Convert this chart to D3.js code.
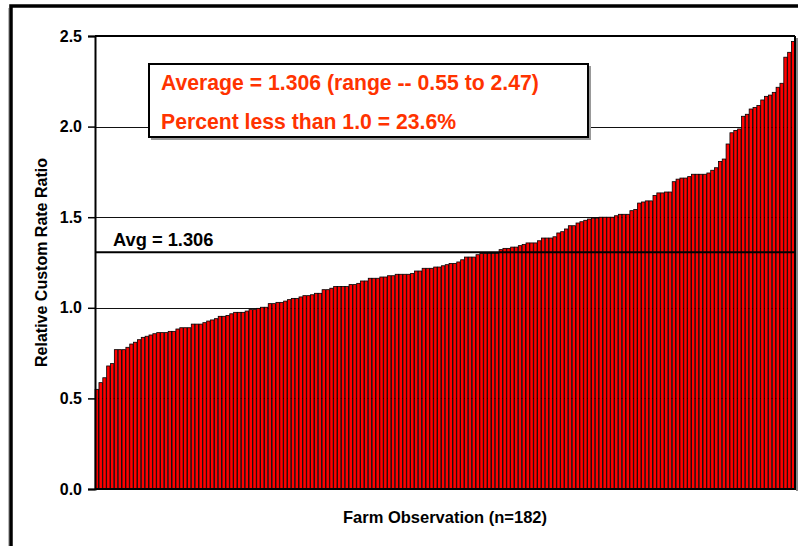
<!DOCTYPE html>
<html><head><meta charset="utf-8">
<script src="https://cdn.jsdelivr.net/npm/d3@7/dist/d3.min.js"></script>
<style>body{margin:0;background:#fff}svg{display:block}text{font-family:"Liberation Sans",Arial,sans-serif;font-weight:bold}</style>
</head><body>
<svg id="c" width="798" height="546"></svg>
<script>
const values = [
0.55,0.587,0.614,0.679,0.692,0.769,0.769,0.769,0.782,0.80,
0.81,0.824,0.837,0.843,0.85,0.857,0.863,0.863,0.863,0.87,
0.87,0.883,0.89,0.89,0.89,0.91,0.91,0.91,0.918,0.927,
0.933,0.94,0.953,0.953,0.958,0.967,0.975,0.975,0.975,0.982,
0.99,0.99,0.997,1.003,1.003,1.023,1.023,1.03,1.03,1.037,
1.045,1.052,1.052,1.06,1.067,1.067,1.072,1.08,1.08,1.10,
1.10,1.108,1.117,1.117,1.117,1.117,1.128,1.128,1.135,1.148,
1.148,1.163,1.163,1.163,1.17,1.17,1.177,1.177,1.185,1.185,
1.185,1.185,1.19,1.203,1.203,1.218,1.218,1.218,1.225,1.225,
1.232,1.238,1.245,1.245,1.253,1.265,1.28,1.28,1.28,1.293,
1.30,1.30,1.30,1.30,1.30,1.321,1.328,1.328,1.335,1.335,
1.343,1.35,1.358,1.358,1.358,1.37,1.385,1.385,1.385,1.392,
1.413,1.42,1.435,1.453,1.453,1.468,1.475,1.483,1.49,1.495,
1.495,1.50,1.50,1.50,1.50,1.508,1.516,1.516,1.516,1.536,
1.543,1.578,1.584,1.59,1.59,1.62,1.634,1.634,1.639,1.639,
1.696,1.71,1.716,1.716,1.724,1.737,1.737,1.737,1.737,1.744,
1.759,1.773,1.808,1.821,1.904,1.966,1.979,1.987,2.057,2.068,
2.097,2.106,2.117,2.147,2.167,2.174,2.189,2.217,2.239,2.383,
2.41,2.47];
const observations = values.map((v,i)=>i+1);
const yTicks = [0,0.5,1.0,1.5,2.0,2.5];
const average = 1.306;
const avgLabel = "Avg = 1.306";
const boxLines = ["Average = 1.306 (range -- 0.55 to 2.47)","Percent less than 1.0 = 23.6%"];
const yTitle = "Relative Custom Rate Ratio";
const xTitle = "Farm Observation (n=182)";

const svg = d3.select("#c");
const L=95, R=795, T=36, B=489;
const x = d3.scaleBand().domain(observations).range([L,R]).paddingInner(0.12).paddingOuter(0.03);
const y = d3.scaleLinear().domain([0,2.5]).range([B,T]);

// outer frame
svg.append("rect").attr("x",11).attr("y",6).attr("width",800).attr("height",560)
  .attr("fill","none").attr("stroke","#000").attr("stroke-width",3.5);
svg.append("line").attr("x1",8.5).attr("x2",8.5).attr("y1",8).attr("y2",546).attr("stroke","#bbb").attr("stroke-width",1);

// plot shadow
svg.append("rect").attr("x",R+1).attr("y",T+2).attr("width",3).attr("height",B-T).attr("fill","#888");

// gridlines
svg.append("g").selectAll("line").data(yTicks.filter(t=>t>0&&t<2.5)).join("line")
  .attr("x1",L).attr("x2",R).attr("y1",d=>Math.round(y(d))+0.5).attr("y2",d=>Math.round(y(d))+0.5)
  .attr("stroke","#111").attr("stroke-width",1);

// bars
svg.append("g").selectAll("rect").data(values).join("rect")
  .attr("x",(d,i)=>x(observations[i])).attr("width",x.bandwidth())
  .attr("y",d=>y(d)).attr("height",d=>B-y(d))
  .attr("fill","#ff0000").attr("stroke","#000").attr("stroke-width",0.8);

// avg line
svg.append("line").attr("x1",L).attr("x2",R).attr("y1",y(average)).attr("y2",y(average))
  .attr("stroke","#000").attr("stroke-width",2);
svg.append("text").attr("x",113).attr("y",y(average)-6).attr("font-size",18.3).attr("fill","#000").text(avgLabel);

// plot border top/right
svg.append("line").attr("x1",L).attr("x2",R).attr("y1",T).attr("y2",T).attr("stroke","#000").attr("stroke-width",2);
svg.append("line").attr("x1",R).attr("x2",R).attr("y1",T).attr("y2",B).attr("stroke","#000").attr("stroke-width",2);

// axes
const ya = svg.append("g").attr("transform",`translate(${L},0)`)
  .call(d3.axisLeft(y).tickValues(yTicks).tickFormat(d3.format(".1f")).tickSize(7).tickPadding(6));
ya.select(".domain").attr("stroke","#000").attr("stroke-width",2);
ya.selectAll(".tick line").attr("stroke","#000").attr("stroke-width",1.5);
ya.selectAll("text").attr("font-size",16).attr("fill","#000").attr("font-family","Liberation Sans").attr("font-weight","bold");
svg.append("line").attr("x1",L).attr("x2",R+1).attr("y1",B).attr("y2",B).attr("stroke","#000").attr("stroke-width",2);

// titles
svg.append("text").attr("transform",`translate(47,${(T+B)/2}) rotate(-90)`).attr("text-anchor","middle")
  .attr("font-size",16).attr("fill","#000").text(yTitle);
svg.append("text").attr("x",(L+R)/2).attr("y",523).attr("text-anchor","middle")
  .attr("font-size",16.5).attr("fill","#000").text(xTitle);

// text box
svg.append("rect").attr("x",151).attr("y",66).attr("width",440).attr("height",74).attr("fill","#999");
svg.append("rect").attr("x",149).attr("y",64).attr("width",439).attr("height",73).attr("fill","#fff").attr("stroke","#000").attr("stroke-width",2);
svg.append("g").selectAll("text").data(boxLines).join("text")
  .attr("x",161).attr("y",(d,i)=>90+i*39).attr("font-size",21.2).attr("fill","#ff3300").text(d=>d);
</script>
</body></html>
